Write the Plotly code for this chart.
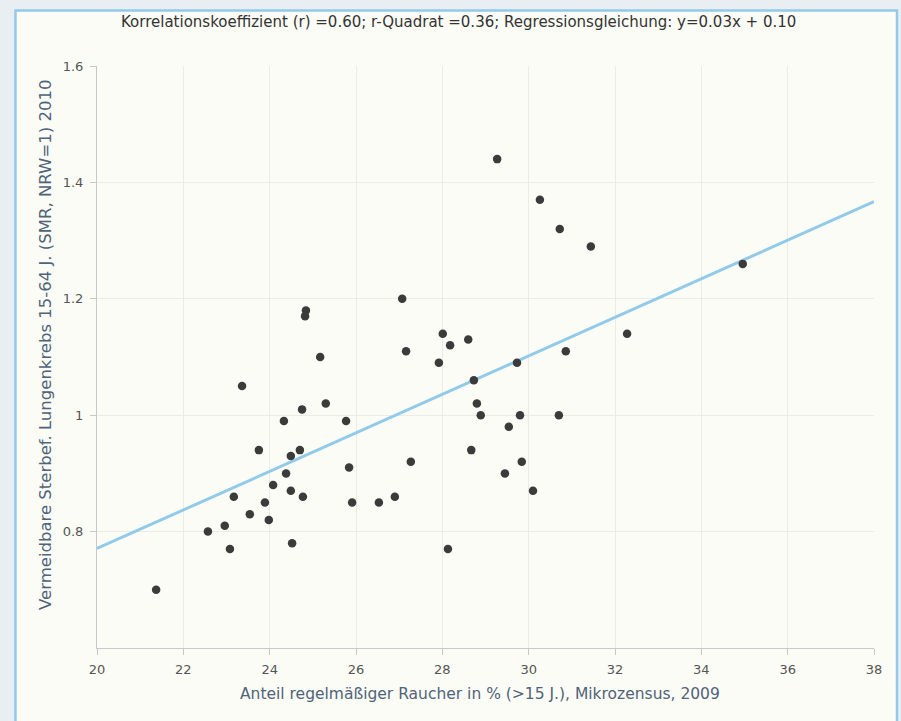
import plotly.graph_objects as go

# Data
smokers_pct = [21.37, 22.57, 22.96, 23.08, 23.17, 23.36, 23.54, 23.75, 23.89, 23.98,
               24.08, 24.33, 24.38, 24.49, 24.49, 24.52, 24.70, 24.75, 24.77, 24.84,
               24.82, 25.17, 25.30, 25.77, 25.84, 25.91, 26.53, 26.90, 27.07, 27.16,
               27.27, 27.92, 28.01, 28.13, 28.18, 28.60, 28.67, 28.73, 28.80, 28.89,
               29.27, 29.45, 29.54, 29.73, 29.80, 29.84, 30.10, 30.26, 30.70, 30.72,
               30.86, 31.44, 32.28, 34.96]
smr_lung = [0.70, 0.80, 0.81, 0.77, 0.86, 1.05, 0.83, 0.94, 0.85, 0.82,
            0.88, 0.99, 0.90, 0.93, 0.87, 0.78, 0.94, 1.01, 0.86, 1.18,
            1.17, 1.10, 1.02, 0.99, 0.91, 0.85, 0.85, 0.86, 1.20, 1.11,
            0.92, 1.09, 1.14, 0.77, 1.12, 1.13, 0.94, 1.06, 1.02, 1.00,
            1.44, 0.90, 0.98, 1.09, 1.00, 0.92, 0.87, 1.37, 1.00, 1.32,
            1.11, 1.29, 1.14, 1.26]

reg_slope = 0.0331
reg_intercept = 0.109
reg_x = [20, 38]
reg_y = [reg_intercept + reg_slope * v for v in reg_x]

x_ticks = [20, 22, 24, 26, 28, 30, 32, 34, 36, 38]
y_ticks = [0.8, 1.0, 1.2, 1.4, 1.6]
y_ticklabels = ["0.8", "1", "1.2", "1.4", "1.6"]

title_text = "Korrelationskoeffizient (r) =0.60; r-Quadrat =0.36; Regressionsgleichung: y=0.03x + 0.10"
x_title = "Anteil regelmäßiger Raucher in % (>15 J.), Mikrozensus, 2009"
y_title = "Vermeidbare Sterbef. Lungenkrebs 15-64 J. (SMR, NRW=1) 2010"

W, H = 901, 721
ML, MR, MT, MB = 97, 27, 66, 73
pw, ph = W - ML - MR, H - MT - MB

def px_x(p):
    return (p - ML) / pw

def px_y(p):
    return (H - MB - p) / ph

fig = go.Figure()
fig.add_trace(go.Scatter(x=reg_x, y=reg_y, mode="lines",
                         line=dict(color="#92cbe9", width=3), hoverinfo="skip",
                         showlegend=False))
fig.add_trace(go.Scatter(x=smokers_pct, y=smr_lung, mode="markers",
                         marker=dict(color="#3b3b3b", size=8.5), showlegend=False))

# card
x0, x1 = px_x(15.5), px_x(897)
y0, y1 = px_y(760), px_y(10.5)
fig.add_shape(type="rect", xref="paper", yref="paper", x0=x0, x1=x1, y0=y0, y1=y1,
              line=dict(color="#93c9ea", width=2.5), fillcolor="#fcfcf6", layer="below")

fig.add_annotation(text=title_text, xref="paper", yref="paper",
                   x=px_x(458), y=px_y(22), showarrow=False,
                   font=dict(family="DejaVu Sans", size=15, color="#333333"),
                   xanchor="center", yanchor="middle")
fig.add_annotation(text=x_title, xref="paper", yref="paper",
                   x=px_x(480), y=px_y(694), showarrow=False,
                   font=dict(family="DejaVu Sans", size=15.5, color="#4f6379"),
                   xanchor="center", yanchor="middle")
fig.add_annotation(text=y_title, xref="paper", yref="paper",
                   x=px_x(45), y=px_y(345), showarrow=False, textangle=-90,
                   font=dict(family="DejaVu Sans", size=16.5, color="#4f6379"),
                   xanchor="center", yanchor="middle")

axis_font = dict(family="DejaVu Sans", size=13, color="#555555")
fig.update_xaxes(range=[20, 38], tickvals=x_ticks, showgrid=True, gridcolor="#ecece6",
                 gridwidth=1, zeroline=False, showline=True, linecolor="#c8c8c8",
                 ticks="outside", ticklen=6, tickcolor="#c8c8c8", tickfont=axis_font,
                 ticklabelstandoff=3, fixedrange=True)
fig.update_yaxes(range=[0.6, 1.6], tickvals=y_ticks, ticktext=y_ticklabels, showgrid=True,
                 gridcolor="#ecece6", gridwidth=1, zeroline=False, showline=True,
                 linecolor="#c8c8c8", ticks="outside", ticklen=6, tickcolor="#c8c8c8",
                 tickfont=axis_font, ticklabelstandoff=4, fixedrange=True)

fig.update_layout(width=W, height=H, margin=dict(l=ML, r=MR, t=MT, b=MB),
                  paper_bgcolor="#e9eef3", plot_bgcolor="rgba(0,0,0,0)",
                  showlegend=False)

fig.write_html("out.html", config={"displayModeBar": False},
               post_script="document.body.style.margin='0';document.body.style.overflow='hidden';")
